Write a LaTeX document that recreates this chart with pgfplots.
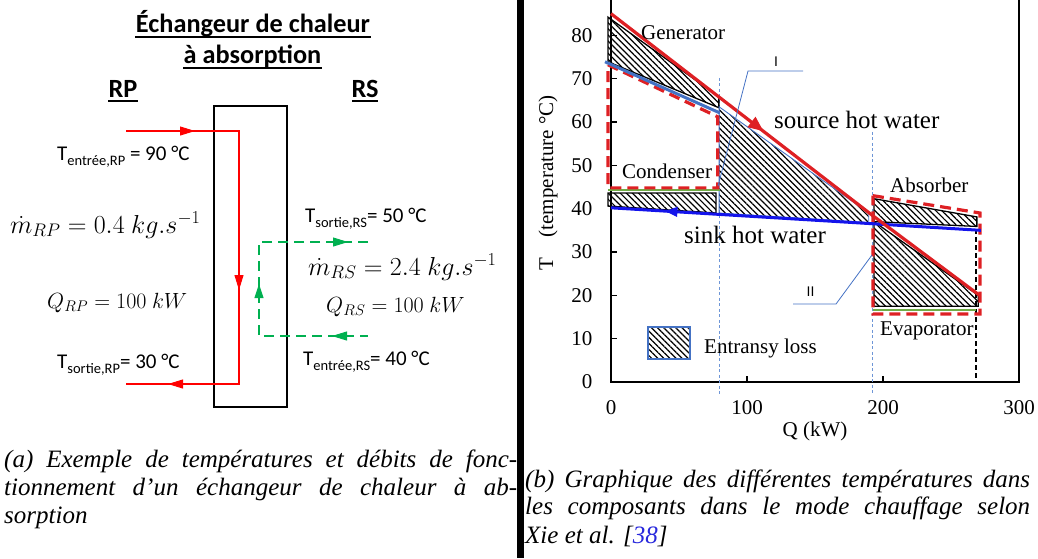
\RequirePackage{fix-cm}
\documentclass[border=0pt]{standalone}
\usepackage{fontspec}
\setmainfont{Liberation Serif}
\newfontfamily\carlito{Carlito}
\newfontfamily\arialf{Liberation Sans}
\usepackage{pgfplots}
\pgfplotsset{compat=1.18}
\usetikzlibrary{patterns.meta,arrows.meta}
\definecolor{srcred}{RGB}{222,32,36}
\definecolor{sinkblue}{RGB}{20,20,235}
\definecolor{steel}{RGB}{68,114,196}
\definecolor{lblue}{RGB}{110,150,215}
\definecolor{grn}{RGB}{112,173,71}
\definecolor{dgreen}{RGB}{0,176,80}
\definecolor{cred}{RGB}{255,0,0}
\definecolor{refblue}{RGB}{40,40,220}
\tikzset{hatch/.style={pattern={Lines[angle=-45,distance=4.3pt,line width=1.2pt]},pattern color=black}}
\newcommand{\fs}[1]{\fontsize{#1}{#1}\selectfont}
\begin{document}
\begin{tikzpicture}[x=1pt,y=1pt]
% ---------------- chart (b) ----------------
\begin{axis}[at={(611pt,176pt)}, anchor=south west, scale only axis,
  width=408pt, height=390pt,
  xmin=0, xmax=300, ymin=0, ymax=90, clip=false,
  xtick={0,100,200,300}, ytick={0,10,...,90},
  tick align=inside, xtick pos=left, ytick pos=left,
  major tick length=6pt,
  every tick/.style={black, line width=1.2pt},
  axis line style={line width=1.8pt},
  tick label style={font=\fs{21}},
  /pgf/number format/assume math mode=true,
  xticklabel style={yshift=-15pt},
  yticklabel style={xshift=-15pt},
  xlabel={Q (kW)}, ylabel={T\quad(temperature °C)},
  label style={font=\fs{21}},
  xlabel style={at={(axis description cs:0.5,-0.128)}, anchor=center},
  ylabel style={at={(axis description cs:-0.154,0.51)}, anchor=center},
]
% vertical helper lines
\addplot[lblue, line width=0.9pt, dash pattern=on 3pt off 2.5pt] coordinates {(79.5,70.2) (79.5,-3)};
\addplot[lblue, line width=0.9pt, dash pattern=on 3pt off 2.5pt] coordinates {(192.6,57.7) (192.6,-3)};
\addplot[black, line width=1.3pt, dash pattern=on 5pt off 3pt] coordinates {(268.4,35.3) (268.4,0)};
% entransy loss areas
\addplot[hatch, draw=black, line width=1.3pt] coordinates {(-2.2,84.2) (79.3,65.8) (79.3,63.3) (-2.2,73.9)} -- cycle;
\addplot[hatch, draw=black, line width=1.3pt] coordinates {(-2.2,43.6) (77.2,43.6) (77.2,39.0) (-2.2,40.6)} -- cycle;
\addplot[hatch, draw=steel, line width=0.9pt] coordinates {(79.5,63.5) (189.5,39.0) (189.5,36.8) (79.5,39.0)} -- cycle;
\addplot[hatch, draw=black, line width=1.3pt] coordinates {(193.4,42.3) (269,38.1) (269,35.9) (193.4,37.0)} -- cycle;
\addplot[hatch, draw=black, line width=1.3pt] coordinates {(193.4,37.0) (193.4,17.5) (270,17.5) (270,20.0)} -- cycle;
% green lines
\addplot[grn, line width=2.2pt] coordinates {(-2.2,44.3) (80.1,44.3)};
\addplot[grn, line width=2.2pt] coordinates {(192.6,16.6) (268.5,16.6)};
% red dashed component boxes
\addplot[srcred, line width=3.2pt, dash pattern=on 11pt off 6pt] coordinates {(-2.2,73.2) (78.5,61.2) (78.5,44.8) (-2.2,44.8)} -- cycle;
\addplot[srcred, line width=3.2pt, dash pattern=on 11pt off 6pt] coordinates {(192.6,43) (271.3,39) (271.3,15.7) (192.6,15.7)} -- cycle;
% lines
\addplot[steel, line width=3pt] coordinates {(-4.4,73.9) (80,62.1)};
\addplot[sinkblue, line width=3pt] coordinates {(0,40.2) (272,35)};
\addplot[srcred, line width=3.2pt] coordinates {(0,85) (192,38.5) (271,20)};
\addplot[srcred, line width=1pt, -{Triangle[length=15pt,width=13pt]}] coordinates {(98,61.3) (112,57.9)};
\addplot[sinkblue, line width=1pt, -{Triangle[length=12pt,width=10pt]}] coordinates {(55,39.15) (40,39.43)};
\end{axis}
% ---------------- overlay (pixel coordinates) ----------------
\begin{axis}[at={(0pt,0pt)}, anchor=south west, scale only axis,
  width=1038pt, height=558pt, xmin=0, xmax=1038, ymin=0, ymax=558,
  y dir=reverse, hide axis, clip=false]
% separator
\fill[black] (517,0) rectangle (524,558);
% exchanger box
\draw[line width=2.6pt] (214,106) rectangle (287,407);
% primary (red) circuit
\draw[cred, line width=1.6pt] (126,131) -- (239,131) -- (239,384) -- (126,384);
\draw[cred, line width=1pt, -{Triangle[length=15pt,width=9pt]}] (178,131) -- (195,131);
\draw[cred, line width=1pt, -{Triangle[length=15pt,width=9pt]}] (239,272) -- (239,290);
\draw[cred, line width=1pt, -{Triangle[length=15pt,width=9pt]}] (186,384) -- (168,384);
% secondary (green) circuit
\draw[dgreen, line width=1.6pt, dash pattern=on 10pt off 6pt] (368,242) -- (259,242) -- (259,336) -- (368,336);
\draw[dgreen, line width=1pt, -{Triangle[length=15pt,width=9pt]}] (330,242) -- (348,242);
\draw[dgreen, line width=1pt, -{Triangle[length=14pt,width=9pt]}] (259,302) -- (259,284);
\draw[dgreen, line width=1pt, -{Triangle[length=15pt,width=9pt]}] (350,336) -- (332,336);
% titles
\node[anchor=base, inner sep=0, font=\carlito\bfseries\fs{26.3}] at (253,32) {Échangeur de chaleur};
\node[anchor=base, inner sep=0, font=\carlito\bfseries\fs{26.3}] at (252.5,63.5) {à absorption};
\draw[line width=1.5pt] (135,37) -- (371,37);
\draw[line width=1.5pt] (183,68) -- (322,68);
\node[anchor=base, inner sep=0, font=\carlito\bfseries\fs{26.3}] at (123,97) {RP};
\node[anchor=base, inner sep=0, font=\carlito\bfseries\fs{26.3}] at (365,97) {RS};
\draw[line width=1.5pt] (108,101) -- (138,101);
\draw[line width=1.5pt] (352,101) -- (378,101);
% labels
\node[anchor=base west, inner sep=0, font=\carlito\fs{21}] at (57,160) {T\raisebox{-5pt}{\fs{14.5}entrée,RP} = 90 °C};
\node[anchor=base west, inner sep=0, font=\carlito\fs{21}] at (57,368) {T\raisebox{-5pt}{\fs{14.5}sortie,RP}= 30 °C};
\node[anchor=base west, inner sep=0, font=\carlito\fs{21}] at (305,222) {T\raisebox{-5pt}{\fs{14.5}sortie,RS}= 50 °C};
\node[anchor=base west, inner sep=0, font=\carlito\fs{21}] at (303,365) {T\raisebox{-5pt}{\fs{14.5}entrée,RS}= 40 °C};
\node[anchor=base west, inner sep=0, font=\fs{26}] at (10,233) {$\dot{m}_{RP} = 0.4\ kg.s^{-1}$};
\node[anchor=base west, inner sep=0, font=\fs{26}] at (308,275) {$\dot{m}_{RS} = 2.4\ kg.s^{-1}$};
\node[anchor=base west, inner sep=0, font=\fs{22}] at (47,308) {$Q_{RP} = 100\ kW$};
\node[anchor=base west, inner sep=0, font=\fs{22}] at (326,312) {$Q_{RS} = 100\ kW$};
% captions
\node[anchor=base west, inner sep=0, font=\itshape\fs{25}] at (4,467) {\makebox[513pt][s]{(a) Exemple de températures et débits de fonc-}};
\node[anchor=base west, inner sep=0, font=\itshape\fs{25}] at (4,495) {\makebox[513pt][s]{tionnement d’un échangeur de chaleur à ab-}};
\node[anchor=base west, inner sep=0, font=\itshape\fs{25}] at (4,523) {sorption};
\node[anchor=base west, inner sep=0, font=\itshape\fs{25}] at (525,487) {\makebox[505pt][s]{(b) Graphique des différentes températures dans}};
\node[anchor=base west, inner sep=0, font=\itshape\fs{25}] at (525,514) {\makebox[505pt][s]{les composants dans le mode chauffage selon}};
\node[anchor=base west, inner sep=0, font=\itshape\fs{25}] at (525,543) {Xie et al. [\textcolor{refblue}{38}]};
% chart annotations
\node[anchor=base west, inner sep=0, font=\fs{21}] at (641,39) {Generator};
\node[anchor=base west, inner sep=0, font=\fs{25}] at (774,128) {source hot water};
\node[anchor=base west, inner sep=0, font=\fs{25}] at (684,243) {sink hot water};
\node[anchor=base west, inner sep=0, font=\fs{21}] at (622,178) {Condenser};
\node[anchor=base west, inner sep=0, font=\fs{21}] at (890,192) {Absorber};
\node[anchor=base west, inner sep=0, font=\fs{21}] at (880,335) {Evaporator};
\node[anchor=base west, inner sep=0, font=\fs{21}] at (704,353) {Entransy loss};
\draw[steel, line width=1.2pt, hatch] (648,327) rectangle (690,359);
\draw[steel, line width=0.8pt] (803,71) -- (748,71) -- (718,186);
\draw[steel, line width=0.8pt] (793,304) -- (836,304) -- (872,255);
\node[anchor=base, inner sep=0, font=\arialf\fs{14}] at (776,66) {I};
\node[anchor=base, inner sep=0, font=\arialf\fs{14}] at (810.5,296) {II};
\end{axis}
\pgfresetboundingbox
\useasboundingbox (0pt,0pt) rectangle (1038pt,558pt);
\end{tikzpicture}
\end{document}
